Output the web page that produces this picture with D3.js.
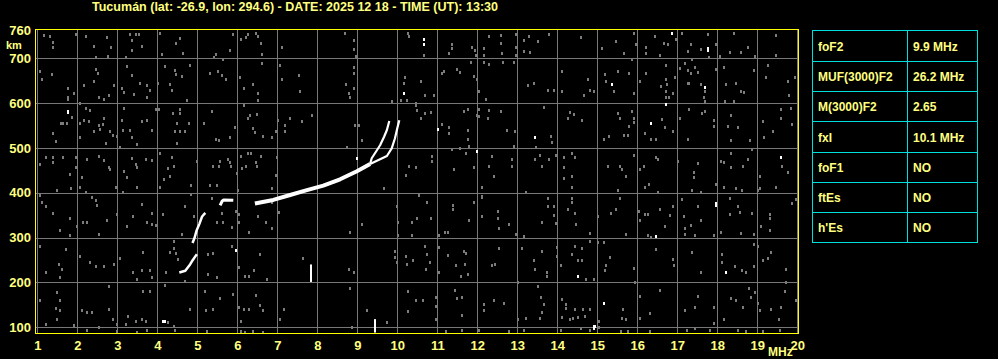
<!DOCTYPE html>
<html>
<head>
<meta charset="utf-8">
<script src="https://cdn.jsdelivr.net/npm/d3@7"></script>
<style>
  body { margin: 0; background: #000; }
  svg { display: block; }
  text { font-family: "Liberation Sans", Arial, sans-serif; font-weight: bold; fill: #ffff80; }
</style>
</head>
<body>
<script>
const titleText = 'Tucumán (lat: -26.9, lon: 294.6) - DATE: 2025 12 18 - TIME (UT): 13:30'
const freqTicks = [1, 2, 3, 4, 5, 6, 7, 8, 9, 10, 11, 12, 13, 14, 15, 16, 17, 18, 19, 20]
const heightTicks = [100, 200, 300, 400, 500, 600, 700]
const heightTop = 760

const paramNames = ['foF2', 'MUF(3000)F2', 'M(3000)F2', 'fxI', 'foF1', 'ftEs', "h'Es"]
const paramValues = ['9.9 MHz', '26.2 MHz', '2.65', '10.1 MHz', 'NO', 'NO', 'NO']

// echo traces, [MHz, km]
const traceLow = [[4.55, 222], [4.7, 226], [4.82, 240], [4.88, 249], [4.95, 258], [4.99, 263]]
const traceMid = [[4.88, 288], [4.93, 299], [4.98, 315], [5.05, 330], [5.12, 347], [5.2, 355]]
const traceCusp = [[5.57, 372], [5.62, 381], [5.66, 384], [5.9, 383]]
const traceMain = [[6.44, 376], [6.9, 384], [7.32, 395], [7.74, 406], [8.15, 416], [8.57, 430], [8.99, 448], [9.32, 464]]
const traceO = [[9.32, 464], [9.36, 477], [9.47, 492], [9.57, 506], [9.67, 525], [9.74, 540], [9.8, 560]]
const traceX = [[9.32, 464], [9.53, 473], [9.74, 482], [9.86, 499], [9.94, 521], [10.0, 544], [10.05, 562]]

// bright isolated echoes and spikes
const brightDots = [[1.73, 585], [1.73, 582], [10.13, 625], [8.97, 480], [10.64, 745], [10.64, 735], [17.74, 725], [17.74, 720],
  [16.84, 758], [15.33, 645], [17.66, 639], [16.68, 600], [10.98, 545], [13.43, 526], [16.33, 558], [11.98, 495], [19.58, 481],
  [5.95, 275], [4.12, 115], [4.18, 115], [16.43, 305], [17.93, 379], [17.93, 375], [14.49, 216], [18.18, 226], [15.14, 157],
  [14.89, 105], [14.92, 105], [14.89, 100]]
const spikes = [[7.83, 201, 240], [9.43, 88, 118]]

// background noise, [MHz, km]
const noise = [
  [1.13,754],[1.3,752],[1.37,739],[1.38,728],[1.95,757],[2.2,753],[2.38,729],[2.45,705],[2.72,750],[2.73,708],[2.82,727],[3.18,705],[3.28,757],[3.34,743],[3.43,757],[3.53,757],[3.59,730],[3.34,721],[4.03,759],[4.09,712],[4.45,736],[4.53,748],[4.63,714],[5.45,712],[5.4,705],[5.62,700],[5.8,721],[5.88,757],[6.07,745],[6.2,750],[6.23,757],[6.45,759],[6.48,752],[6.58,712],[6.57,736],[7.09,727],[8.68,759],[8.9,743],[8.9,724],[8.95,707],[10.23,759],[10.28,751],
  [1.03,675],[1.09,655],[1.33,667],[1.73,637],[1.73,616],[1.73,611],[1.88,625],[2.03,603],[2.13,642],[2.43,678],[2.48,669],[2.4,652],[2.51,615],[2.63,612],[2.78,620],[2.9,642],[3.09,637],[3.13,627],[3.22,685],[3.34,665],[3.4,622],[3.55,648],[3.72,642],[3.72,616],[3.78,631],[3.98,648],[4.17,684],[4.3,645],[4.34,631],[4.42,677],[4.45,667],[4.59,662],[4.78,687],[4.72,610],[5.28,670],[5.48,675],[5.59,665],[5.7,655],[6.05,661],[6.13,635],[6.38,645],[6.49,610],[6.49,624],[6.59,692],[7.03,687],[7.09,655],[7.51,665],[7.55,630],[8.7,645],[8.78,625],[8.8,616],[8.88,682],[8.88,670],[8.88,635],[9.84,607],[10.07,610],[10.13,648],[10.18,661],[10.22,609],[10.43,603],
  [1.38,535],[1.45,518],[1.57,558],[1.63,558],[1.72,558],[1.84,572],[2.05,558],[2.13,565],[2.26,562],[2.05,527],[2.2,592],[2.3,587],[2.38,541],[2.53,553],[2.55,545],[2.62,555],[2.63,570],[2.68,514],[2.8,541],[2.87,532],[2.97,528],[3.05,504],[3.09,565],[3.12,543],[3.15,592],[3.3,543],[3.34,527],[3.47,512],[3.59,563],[3.72,565],[3.84,543],[3.93,588],[4.01,590],[4.37,580],[4.47,558],[4.55,580],[4.53,588],[4.68,540],[4.76,558],[4.55,541],[4.42,541],[4.47,513],[5.13,558],[5.35,585],[5.51,520],[5.45,522],[5.78,526],[5.93,550],[6.15,597],[6.23,568],[6.3,575],[6.37,547],[6.42,537],[6.47,578],[6.63,528],[6.84,526],[6.95,541],[7.0,565],[7.17,553],[7.17,541],[7.3,570],[7.59,562],[7.84,575],[8.73,504],[8.93,553],[9.01,553],[9.09,519],[10.43,598],[10.47,586],
  [1.18,481],[1.37,483],[1.38,470],[1.63,483],[1.8,443],[1.95,481],[1.95,459],[1.03,466],[2.09,438],[2.22,478],[2.51,485],[2.63,475],[2.76,459],[2.8,455],[3.13,451],[3.22,438],[3.34,480],[3.45,466],[3.47,459],[3.7,477],[3.84,475],[4.05,492],[4.23,457],[4.28,440],[4.34,481],[4.4,463],[4.14,433],[4.97,474],[5.38,463],[5.51,463],[5.55,472],[5.73,477],[5.78,470],[5.82,461],[5.97,446],[6.07,485],[6.09,458],[6.2,463],[6.23,492],[6.32,492],[6.43,470],[6.47,461],[6.57,484],[6.97,483],[6.93,441],[10.28,463],[10.2,442],[10.45,459],
  [10.64,710],[11.33,735],[11.33,725],[11.28,715],[11.84,727],[11.93,721],[11.95,710],[12.14,725],[12.14,710],[12.28,752],[12.58,755],[12.58,736],[12.59,713],[12.93,757],[12.93,728],[12.95,710],[13.14,744],[13.13,719],[13.26,752],[13.28,717],[13.49,741],[13.78,757],[14.58,749],[15.08,725],[15.45,740],[15.64,715],[15.89,759],[15.95,734],[16.2,728],[16.2,713],[16.41,752],[16.53,710],[16.64,737],[16.74,734],[16.93,745],[17.09,758],[17.31,734],[17.24,719],[17.34,700],[17.58,722],[17.74,757],[17.76,706],[17.93,734],[18.03,708],[18.28,717],[18.39,759],[18.58,717],[18.73,727],[18.93,708],[19.45,755],[19.43,710],
  [10.56,652],[10.68,620],[10.89,620],[11.14,675],[11.09,669],[11.48,678],[11.53,672],[11.83,693],[11.89,663],[12.03,630],[12.14,693],[12.2,612],[12.28,689],[12.62,695],[12.9,693],[11.98,655],[13.24,642],[13.39,648],[13.74,631],[13.89,631],[14.09,675],[14.09,630],[14.64,620],[14.74,655],[14.8,631],[14.89,630],[15.16,667],[15.2,652],[15.49,675],[15.39,630],[15.78,670],[15.89,625],[15.84,700],[16.03,652],[16.2,669],[16.56,640],[16.68,655],[16.73,645],[16.68,630],[16.68,616],[16.76,616],[16.87,624],[16.91,661],[16.68,687],[17.03,680],[17.16,691],[17.23,676],[17.33,670],[17.41,682],[17.49,672],[17.23,648],[17.26,648],[17.56,645],[17.68,630],[17.64,616],[17.68,607],[17.93,678],[18.14,682],[18.16,607],[18.18,645],[18.39,607],[18.45,648],[18.56,630],[18.64,628],[18.89,676],[19.2,661],[19.23,687],[19.76,620],[19.74,652],[19.93,661],
  [10.56,570],[10.68,580],[10.81,582],[11.09,556],[11.28,549],[11.28,535],[11.64,585],[11.74,588],[11.74,543],[11.74,522],[11.78,507],[12.03,588],[12.03,573],[11.98,575],[12.28,586],[12.56,585],[12.73,543],[12.91,540],[12.89,507],[12.24,570],[13.45,504],[13.64,594],[13.81,528],[13.83,515],[14.28,582],[14.39,577],[14.24,570],[14.59,565],[15.26,528],[15.14,522],[15.49,580],[15.53,570],[15.64,532],[15.74,532],[15.78,552],[15.83,585],[15.89,570],[15.89,560],[16.16,535],[16.33,522],[16.45,522],[16.59,567],[16.66,549],[16.87,540],[17.03,570],[17.24,522],[17.26,588],[17.59,580],[17.66,585],[17.89,552],[17.89,564],[18.24,552],[18.33,575],[18.48,549],[18.33,519],[18.78,519],[19.12,562],[19.14,526],[19.37,540],[19.56,588],[19.56,570],[19.81,592],[19.84,555],
  [10.84,485],[10.84,474],[11.33,500],[11.53,502],[11.7,490],[11.89,460],[11.39,455],[12.33,485],[12.26,463],[12.84,478],[12.84,463],[12.39,440],[13.41,478],[13.53,487],[13.59,463],[13.76,478],[13.93,487],[14.14,483],[14.14,459],[14.14,436],[14.34,490],[14.43,481],[14.34,440],[15.23,463],[15.53,463],[15.59,455],[15.7,440],[15.89,487],[16.03,455],[16.14,463],[16.45,481],[16.49,478],[16.99,474],[17.39,448],[17.39,438],[17.48,468],[18.08,474],[18.14,470],[18.33,490],[18.33,459],[18.62,463],[18.74,478],[18.84,500],[19.59,463],[19.73,448],[19.03,440],
  [1.03,397],[1.48,409],[1.82,412],[2.05,416],[2.2,404],[2.34,392],[2.43,387],[2.47,375],[2.93,416],[3.12,404],[3.47,414],[4.03,416],[4.82,419],[5.3,419],[5.47,419],[5.98,409],[6.84,412],[9.63,412],
  [1.09,382],[1.18,372],[1.38,357],[1.55,320],[1.78,345],[1.8,308],[1.97,329],[2.12,338],[2.22,338],[2.53,310],[2.72,342],[2.97,355],[3.22,329],[3.38,351],[3.59,377],[3.72,338],[3.84,332],[3.84,358],[3.93,330],[4.12,355],[4.38,295],[4.59,310],[4.68,372],[4.82,399],[4.88,351],[5.34,390],[5.47,336],[5.59,357],[5.62,336],[5.84,325],[5.95,362],[6.01,355],[6.03,338],[6.28,315],[6.48,350],[6.7,336],[6.84,323],[7.01,360],[6.84,381],[8.8,314],[9.09,332],[9.97,373],[9.98,338],[9.98,307],[10.34,336],[10.47,347],[10.34,308],
  [1.03,284],[1.7,277],[1.51,243],[1.59,231],[1.55,214],[1.2,225],[2.05,262],[2.3,247],[2.45,238],[2.63,238],[2.9,243],[3.03,256],[3.38,225],[3.47,210],[3.62,269],[3.59,229],[3.8,229],[3.84,214],[4.2,225],[4.28,269],[4.38,278],[4.45,268],[4.48,255],[4.68,206],[5.23,221],[5.23,266],[5.38,268],[5.47,214],[5.84,283],[6.03,236],[6.18,216],[6.28,216],[6.53,266],[6.72,210],[6.4,229],[7.63,256],[8.78,231],[8.88,226],[9.93,273],[9.93,258],[9.97,247],[10.2,261],[10.22,243],[10.37,253],
  [1.03,164],[1.48,180],[1.55,164],[1.45,145],[1.55,140],[1.48,121],[1.2,110],[1.88,108],[2.09,140],[2.22,136],[2.34,136],[2.51,102],[2.78,195],[2.78,143],[2.88,121],[2.97,110],[3.23,127],[3.2,110],[3.43,115],[3.62,182],[3.59,120],[3.68,115],[3.8,182],[4.18,197],[4.23,114],[4.38,105],[4.78,143],[5.18,184],[5.2,140],[5.38,143],[5.53,167],[5.87,177],[6.01,147],[6.07,115],[6.13,143],[6.26,143],[6.53,152],[6.63,140],[6.45,173],[7.03,120],[7.13,143],[8.8,189],[9.22,140],[10.23,184],[10.23,138],[10.45,164],[8.84,102],[9.72,114],
  [2.22,95],[2.97,93],[3.47,92],[3.72,95],[4.43,96],[5.22,93],[6.07,93],[6.18,91],[6.37,93],[6.63,92],
  [10.51,397],[12.08,416],[12.09,396],[13.2,404],[14.34,416],[15.48,409],[16.16,416],[16.26,422],[16.48,404],[17.34,409],[17.58,404],[17.95,422],[18.14,416],[18.45,412],[18.59,409],[18.98,409],[19.03,412],[19.45,416],
  [10.73,381],[10.81,345],[11.03,307],[11.16,314],[11.24,314],[11.37,375],[11.37,367],[11.78,342],[11.89,381],[12.09,392],[12.09,351],[12.49,362],[12.49,347],[12.53,323],[12.78,332],[12.93,310],[13.14,305],[13.59,338],[13.74,390],[13.74,373],[13.89,373],[13.89,353],[13.93,335],[14.34,390],[14.34,381],[14.24,367],[14.43,357],[14.45,332],[14.78,312],[14.99,351],[15.31,358],[15.45,367],[15.53,390],[15.7,310],[16.01,362],[16.03,342],[16.16,355],[16.24,355],[16.24,307],[16.33,303],[16.53,367],[16.66,329],[16.78,353],[16.87,372],[17.09,388],[17.14,351],[17.16,323],[17.16,310],[17.31,330],[17.43,307],[17.56,342],[17.49,372],[17.89,307],[18.28,390],[18.28,355],[18.49,372],[18.53,360],[18.56,312],[18.84,358],[18.89,310],[19.08,329],[19.28,355],[19.28,347],[19.28,320],[19.84,379],[19.95,388],[18.08,314],
  [10.68,284],[10.73,266],[10.78,247],[10.7,231],[11.03,281],[11.03,225],[11.24,263],[11.45,241],[11.64,273],[11.68,268],[11.66,243],[11.73,221],[11.56,217],[12.34,240],[12.43,243],[12.53,278],[12.99,204],[13.09,278],[13.38,253],[13.43,232],[13.59,273],[13.71,225],[13.71,217],[13.96,281],[13.96,261],[14.07,241],[14.34,266],[14.41,283],[14.49,253],[14.59,278],[14.59,253],[14.69,209],[14.78,295],[14.88,209],[14.99,292],[15.14,293],[15.18,241],[15.16,229],[15.29,258],[15.89,234],[15.91,204],[16.45,277],[16.87,255],[16.89,241],[17.34,269],[17.56,226],[18.09,266],[18.09,247],[18.41,238],[18.59,229],[18.69,226],[18.89,238],[18.89,288],[18.98,284],[19.11,253],[19.25,256],[19.33,271],[19.69,232],[19.98,268],[19.69,204],
  [10.62,162],[10.93,169],[10.93,149],[10.95,121],[11.43,186],[11.48,167],[11.58,169],[11.58,130],[12.14,154],[12.14,140],[12.39,164],[12.64,157],[12.98,121],[13.2,122],[13.49,194],[13.58,169],[13.64,154],[13.59,136],[13.53,122],[14.09,166],[14.18,154],[14.2,145],[14.41,143],[14.62,143],[14.78,143],[14.66,127],[14.49,125],[14.37,122],[14.28,121],[14.09,125],[15.03,115],[15.62,143],[15.59,122],[15.7,120],[16.03,171],[16.03,122],[16.28,134],[16.53,186],[17.16,140],[17.43,147],[17.48,171],[17.89,147],[17.89,112],[18.14,120],[18.33,167],[18.45,162],[18.62,147],[18.76,189],[18.83,169],[18.91,180],[18.98,157],[19.03,140],[19.33,143],[19.51,121],[19.58,147],[19.66,184],[19.95,162],
  [11.2,94],[11.58,95],[12.03,96],[12.76,93],[13.14,96],[14.07,96],[14.57,101],[14.78,96],[15.03,102],[15.57,94],[15.74,94],[16.28,94],[17.22,96],[17.43,101],[17.79,97],[18.49,97],[18.69,94],[19.12,94],[19.53,96]
]

const frame = { left: 35.5, top: 29.5, right: 798.5, bottom: 333.5 }

const svg = d3.select('body').append('svg')
  .attr('width', 998)
  .attr('height', 359)

svg.append('rect').attr('width', 998).attr('height', 359).attr('fill', '#000')

const x = d3.scaleLinear().domain([1, 20]).range([37.3, 797.3])
const y = d3.scaleLinear().domain([100, 700]).range([327.2, 58.3])

svg.append('clipPath').attr('id', 'plot')
  .append('rect')
    .attr('x', frame.left).attr('y', frame.top)
    .attr('width', frame.right - frame.left).attr('height', frame.bottom - frame.top)

const plot = svg.append('g').attr('clip-path', 'url(#plot)')

// noise speckle
plot.append('g')
  .selectAll('rect')
  .data(noise)
  .join('rect')
    .attr('x', d => Math.round(x(d[0])))
    .attr('y', d => Math.round(y(d[1])))
    .attr('width', 2)
    .attr('height', 3)
    .attr('fill', '#7c7c7c')

// grid
plot.append('g')
  .attr('transform', `translate(0,${frame.top})`)
  .call(d3.axisBottom(x).tickValues(freqTicks).tickSize(frame.bottom - frame.top).tickFormat(''))
  .call(g => g.select('.domain').remove())
  .call(g => g.selectAll('line').attr('stroke', '#787878').attr('shape-rendering', 'crispEdges'))

plot.append('g')
  .attr('transform', `translate(${frame.left},0)`)
  .call(d3.axisRight(y).tickValues(heightTicks).tickSize(frame.right - frame.left).tickFormat(''))
  .call(g => g.select('.domain').remove())
  .call(g => g.selectAll('line').attr('stroke', '#787878').attr('shape-rendering', 'crispEdges'))

// traces
const line = d3.line().x(d => x(d[0])).y(d => y(d[1]))
const traces = [
  { pts: traceLow, w: 2.5 },
  { pts: traceMid, w: 2.5 },
  { pts: traceCusp, w: 3 },
  { pts: traceMain, w: 4 },
  { pts: traceO, w: 2.2 },
  { pts: traceX, w: 2.2 }
]
plot.append('g')
  .selectAll('path')
  .data(traces)
  .join('path')
    .attr('d', d => line(d.pts))
    .attr('fill', 'none')
    .attr('stroke', '#fff')
    .attr('stroke-width', d => d.w)
    .attr('stroke-linejoin', 'round')

plot.append('g')
  .selectAll('rect')
  .data(brightDots)
  .join('rect')
    .attr('x', d => Math.round(x(d[0])))
    .attr('y', d => Math.round(y(d[1])))
    .attr('width', 2)
    .attr('height', 3)
    .attr('fill', '#fff')

plot.append('g')
  .selectAll('rect')
  .data(spikes)
  .join('rect')
    .attr('x', d => Math.round(x(d[0])))
    .attr('y', d => y(d[2]))
    .attr('width', 2)
    .attr('height', d => y(d[1]) - y(d[2]))
    .attr('fill', '#fff')

// frame
svg.append('rect')
  .attr('x', frame.left).attr('y', frame.top)
  .attr('width', frame.right - frame.left).attr('height', frame.bottom - frame.top)
  .attr('fill', 'none')
  .attr('stroke', '#ffff00')
  .attr('stroke-width', 1)

// axis labels
const xAxis = svg.append('g')
  .attr('transform', `translate(0,${frame.bottom})`)
  .call(d3.axisBottom(x).tickValues(freqTicks).tickSize(0).tickPadding(7))
xAxis.select('.domain').remove()
xAxis.selectAll('text')
  .attr('font-size', 13).attr('font-family', null).attr('fill', '#ffff80')

const yAxis = svg.append('g')
  .attr('transform', 'translate(31,0)')
  .call(d3.axisLeft(y).tickValues([...heightTicks, heightTop]).tickSize(0).tickPadding(0))
yAxis.select('.domain').remove()
yAxis.selectAll('text')
  .attr('font-size', 13).attr('font-family', null).attr('fill', '#ffff80')
yAxis.selectAll('.tick').filter(d => d === heightTop).select('text').attr('y', -1)

svg.append('text').attr('x', 6).attr('y', 48.5).attr('font-size', 11).text('km')
svg.append('text').attr('x', 768).attr('y', 356).attr('font-size', 12).text('MHz')

svg.append('text')
  .attr('x', 92).attr('y', 11)
  .attr('font-size', 12)
  .attr('textLength', 406)
  .attr('lengthAdjust', 'spacingAndGlyphs')
  .text(titleText)

// parameter table
const rowY = d3.scaleBand().domain(paramNames).range([30.5, 242.5])
const table = svg.append('g')
table.append('rect')
  .attr('x', 812.5).attr('y', 30.5).attr('width', 165).attr('height', 212)
  .attr('fill', 'none').attr('stroke', '#00dede')
table.append('line')
  .attr('x1', 907.5).attr('x2', 907.5).attr('y1', 30.5).attr('y2', 242.5)
  .attr('stroke', '#00dede')
table.selectAll('line.row')
  .data(paramNames.slice(1))
  .join('line')
    .attr('class', 'row')
    .attr('x1', 812.5).attr('x2', 977.5)
    .attr('y1', d => Math.round(rowY(d)) + 0.5).attr('y2', d => Math.round(rowY(d)) + 0.5)
    .attr('stroke', '#00dede')
table.selectAll('text.name')
  .data(paramNames)
  .join('text')
    .attr('class', 'name')
    .attr('x', 818)
    .attr('y', d => rowY(d) + rowY.bandwidth() / 2 + 5)
    .attr('font-size', 12)
    .text(d => d)
table.selectAll('text.val')
  .data(paramValues)
  .join('text')
    .attr('class', 'val')
    .attr('x', 913)
    .attr('y', (d, i) => rowY(paramNames[i]) + rowY.bandwidth() / 2 + 5)
    .attr('font-size', 12)
    .text(d => d)
</script>
</body>
</html>
